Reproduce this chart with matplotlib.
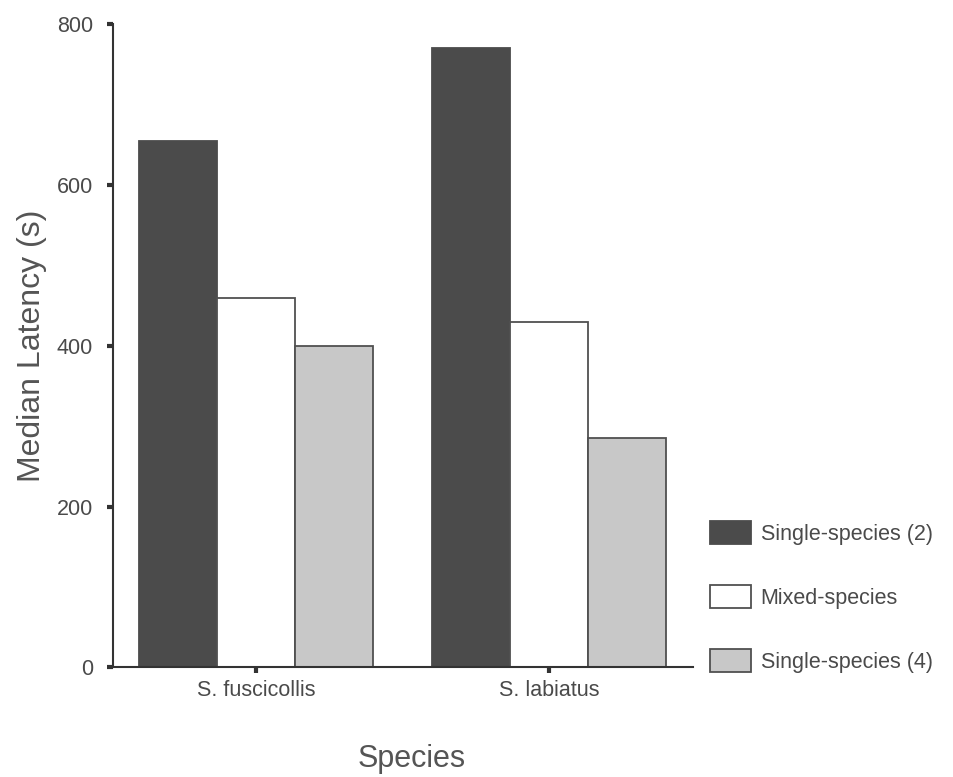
import matplotlib
matplotlib.use("Agg")
import matplotlib.pyplot as plt
import numpy as np

species = ["S. fuscicollis", "S. labiatus"]
series_names = ["Single-species (2)", "Mixed-species", "Single-species (4)"]
single2 = [654, 770]
mixed = [460, 429]
single4 = [400, 285]
yticks = [0, 200, 400, 600, 800]

plt.rcParams['font.family'] = ['Liberation Sans', 'DejaVu Sans']
txt = '#4a4a4a'

fig = plt.figure(figsize=(9.54, 7.77), dpi=100)
ax = fig.add_axes([0.118, 0.141, 0.608, 0.828])

x = np.arange(len(species))
w = 0.267
styles = [dict(color='#4b4b4b', edgecolor='#4b4b4b'),
          dict(color='white', edgecolor='#505050'),
          dict(color='#c8c8c8', edgecolor='#505050')]
handles = []
for i, (vals, st) in enumerate(zip([single2, mixed, single4], styles)):
    b = ax.bar(x + (i - 1) * w, vals, w, facecolor=st['color'],
               edgecolor=st['edgecolor'], linewidth=1.3, label=series_names[i])
    handles.append(b)

ax.set_xlim(-0.49, 1.49)
ax.set_ylim(0, 800)
ax.set_yticks(yticks)
ax.set_xticks(x)
ax.set_xticklabels(species, fontsize=15.5, color=txt)
ax.tick_params(axis='y', labelsize=15.5, colors='#333333', labelcolor=txt,
               length=4, width=3, direction='out', pad=10)
ax.tick_params(axis='x', colors='#333333', labelcolor=txt, length=4, width=3,
               direction='out', pad=5)
for s in ['top', 'right']:
    ax.spines[s].set_visible(False)
for s in ['left', 'bottom']:
    ax.spines[s].set_color('#333333')
    ax.spines[s].set_linewidth(1.5)

ax.set_ylabel("Median Latency (s)", fontsize=23, color='#555555', labelpad=7)
fig.text(0.432, 0.004, "Species", fontsize=22, color='#555555', ha='center', va='bottom')

leg = fig.legend(handles=handles, labels=series_names, loc='upper left',
                 bbox_to_anchor=(0.733, 0.343), frameon=False, fontsize=15.5,
                 handlelength=1.9, handleheight=1.25, labelspacing=1.87,
                 handletextpad=0.45, borderpad=0)
for t in leg.get_texts():
    t.set_color('#4a4a4a')

fig.savefig("out.png", dpi=100)
